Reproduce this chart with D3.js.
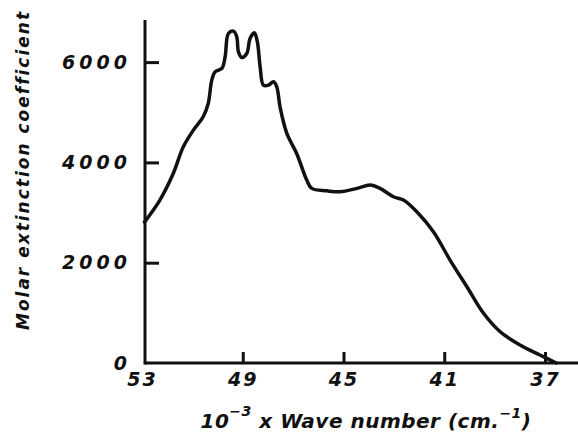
<!DOCTYPE html>
<html>
<head>
<meta charset="utf-8">
<script src="https://cdn.jsdelivr.net/npm/d3@7"></script>
<style>
  body { margin: 0; background: #fff; }
  svg text { font-family: "DejaVu Sans", sans-serif; font-weight: bold; font-style: italic; fill: #111; }
</style>
</head>
<body>
<div id="chart"></div>
<script>
// Dados (espectro de absorção)
const waveNumbers = [52.9, 52.29, 51.76, 51.36, 50.96, 50.57, 50.37, 50.23, 50.10, 49.83, 49.70, 49.57, 49.37,
  49.24, 49.17, 49.04, 48.84, 48.71, 48.54, 48.42, 48.31, 48.18, 47.98, 47.78, 47.65, 47.52, 47.25,
  46.86, 46.46, 46.26, 45.66, 45.14, 44.47, 43.94, 43.55, 43.02, 42.62, 42.09, 41.43, 40.77, 40.10,
  39.44, 38.78, 37.99, 37.20, 36.55];
const extinction = [2810, 3249, 3779, 4311, 4644, 4910, 5176, 5641, 5806, 5873, 6106, 6571, 6617,
  6505, 6205, 6093, 6172, 6471, 6584, 6405, 5907, 5541, 5541, 5607, 5508, 5109, 4578,
  4179, 3648, 3482, 3434, 3414, 3482, 3548, 3482, 3316, 3249, 3016, 2617, 2053, 1521,
  991, 624, 359, 159, 0];
const xTicks = [53, 49, 45, 41, 37];
const yTicks = [0, 2000, 4000, 6000];

const width = 578, height = 441;
const axisX = 145, axisY = 363;

const svg = d3.select("#chart")
  .append("svg")
  .attr("width", width)
  .attr("height", height);

const x = d3.scaleLinear().domain([53, 37]).range([142, 545]);
const y = d3.scaleLinear().domain([0, 6840]).range([axisY, 20]);

// Eixo X (ticks para dentro)
const xAxis = svg.append("g")
  .attr("transform", `translate(0,${axisY})`)
  .call(d3.axisBottom(x).tickValues(xTicks).tickFormat(d3.format("d"))
    .tickSizeInner(-11).tickSizeOuter(0).tickPadding(10));
xAxis.select(".domain").remove();
xAxis.selectAll(".tick line").attr("stroke", "#111").attr("stroke-width", 3)
  .attr("opacity", d => d === 53 ? 0 : 1);
xAxis.selectAll(".tick text").attr("font-size", 19).attr("letter-spacing", 2);
svg.append("line")
  .attr("x1", axisX).attr("x2", width).attr("y1", axisY).attr("y2", axisY)
  .attr("stroke", "#111").attr("stroke-width", 3);

// Eixo Y
const yAxis = svg.append("g")
  .attr("transform", `translate(${axisX},0)`)
  .call(d3.axisLeft(y).tickValues(yTicks).tickFormat(d3.format("d"))
    .tickSizeInner(-14).tickSizeOuter(0).tickPadding(14));
yAxis.select(".domain").remove();
yAxis.selectAll(".tick line").attr("stroke", "#111").attr("stroke-width", 3)
  .attr("opacity", d => d === 0 ? 0 : 1);
yAxis.selectAll(".tick text").attr("font-size", 19).attr("letter-spacing", 4);
svg.append("line")
  .attr("x1", axisX).attr("x2", axisX).attr("y1", 20).attr("y2", axisY + 1.5)
  .attr("stroke", "#111").attr("stroke-width", 3);

// Curva
const points = waveNumbers.map((w, i) => [w, extinction[i]]);
const line = d3.line()
  .x(d => x(d[0]))
  .y(d => y(d[1]))
  .curve(d3.curveCatmullRom.alpha(0.5));

svg.append("path")
  .datum(points)
  .attr("d", line)
  .attr("fill", "none")
  .attr("stroke", "#111")
  .attr("stroke-width", 3.5)
  .attr("stroke-linejoin", "round")
  .attr("stroke-linecap", "round");

// Títulos dos eixos
svg.append("text")
  .attr("transform", "translate(29,170) rotate(-90)")
  .attr("text-anchor", "middle")
  .attr("font-size", 17)
  .attr("letter-spacing", 2)
  .text("Molar extinction coefficient");

const xTitle = svg.append("text")
  .attr("x", 366)
  .attr("y", 428)
  .attr("text-anchor", "middle")
  .attr("font-size", 20)
  .attr("letter-spacing", 0.5);
xTitle.append("tspan").text("10");
xTitle.append("tspan").attr("dy", -12).attr("font-size", 14).text("−3");
xTitle.append("tspan").attr("dy", 12).text(" x Wave number (cm.");
xTitle.append("tspan").attr("dy", -10).attr("font-size", 14).text("−1");
xTitle.append("tspan").attr("dy", 10).text(")");
</script>
</body>
</html>
